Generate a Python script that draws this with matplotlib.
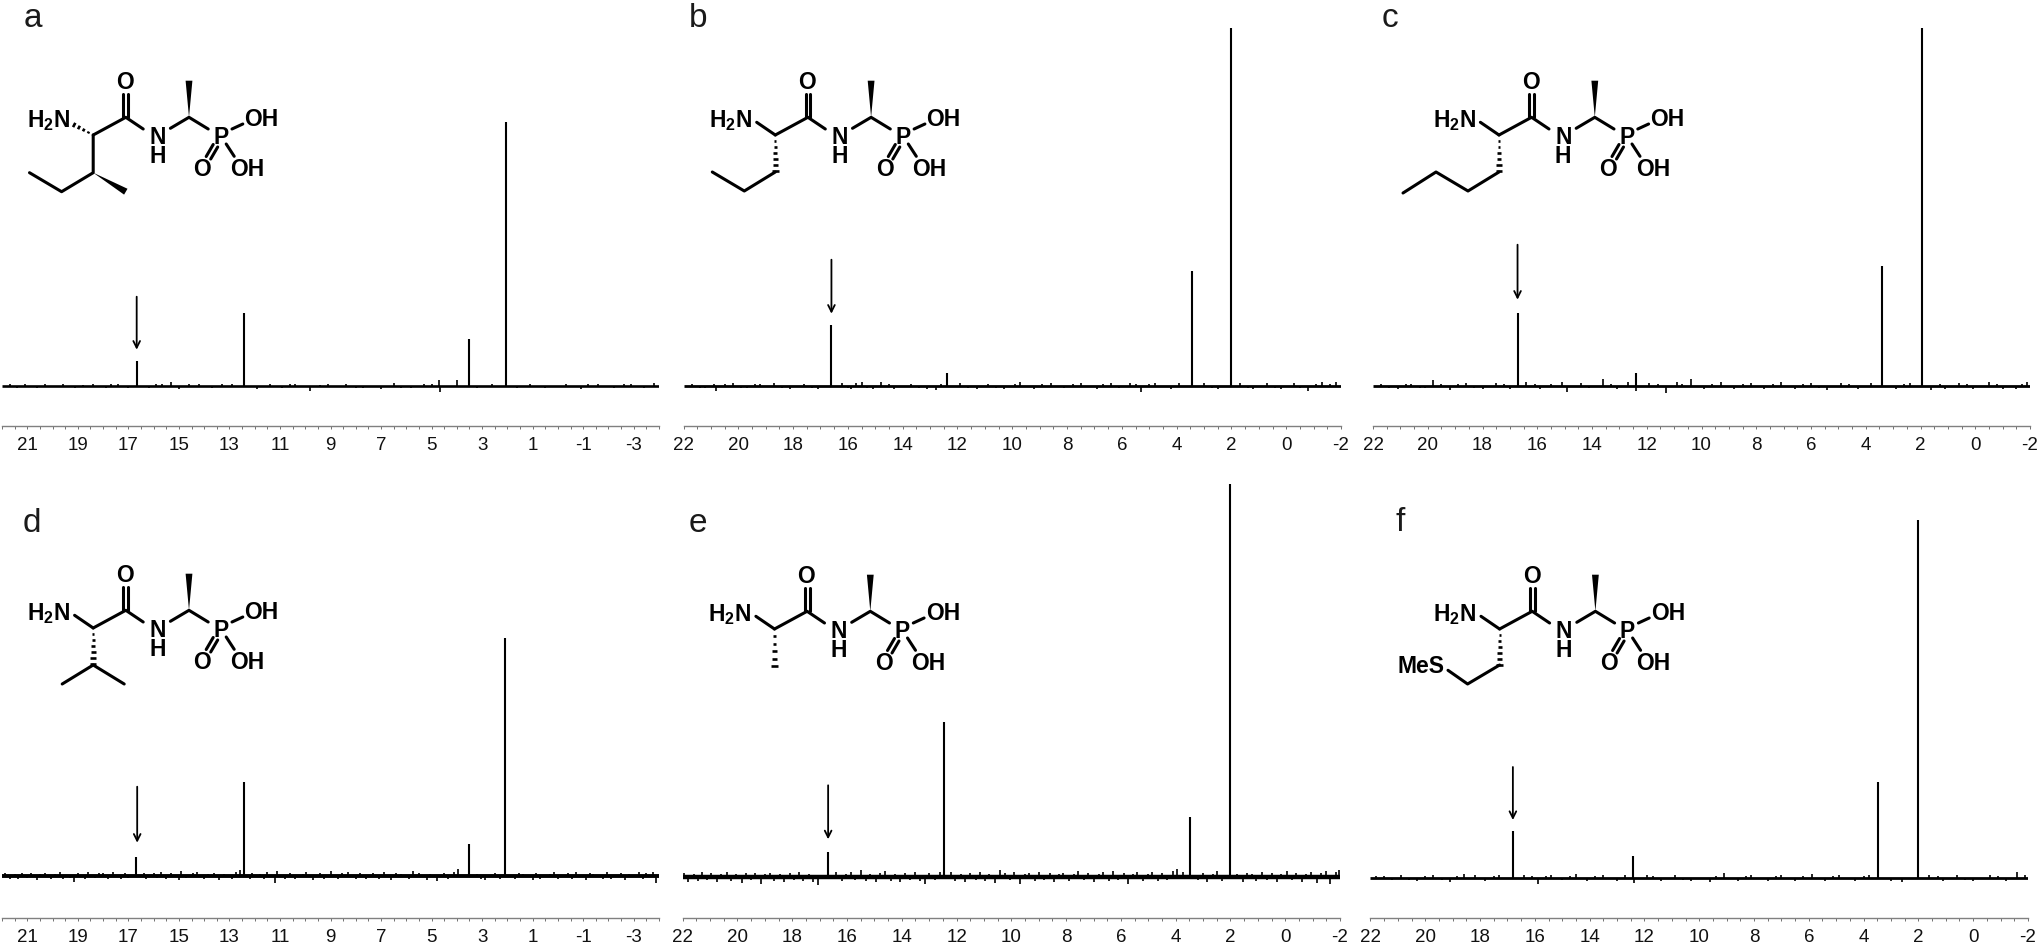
import matplotlib
matplotlib.use('Agg')
from matplotlib import pyplot as plt
from matplotlib.ticker import MultipleLocator

plt.rcParams['font.family'] = ['Liberation Sans', 'DejaVu Sans']
plt.rcParams['mathtext.fontset'] = 'custom'
plt.rcParams['mathtext.bf'] = 'Liberation Sans:bold'
plt.rcParams['mathtext.rm'] = 'Liberation Sans'
plt.rcParams['axes.unicode_minus'] = False

W, H = 2041, 945

# peaks: shift (ppm) and height above the baseline
peaks_a_ppm = [16.67, 12.42, 3.50, 2.07]
peaks_a_h = [25, 73, 47, 264]
peaks_b_ppm = [16.60, 12.40, 3.45, 2.02]
peaks_b_h = [61, 13, 115, 358]
peaks_c_ppm = [16.72, 12.40, 3.39, 1.93]
peaks_c_h = [73, 13, 120, 358]
peaks_d_ppm = [16.69, 12.44, 3.53, 2.10]
peaks_d_h = [19, 94, 32, 238]
peaks_e_ppm = [16.69, 12.45, 3.47, 2.03]
peaks_e_h = [25, 155, 60, 393]
peaks_f_ppm = [16.80, 12.42, 3.48, 2.03]
peaks_f_h = [47, 22, 96, 358]

# visible baseline spikes, read by eye
noise_a_ppm = [21.7, 21.4, 21.1, 20.6, 20.3, 19.9, 19.6, 19.1, 18.8, 18.4, 17.9, 17.7, 17.4, 17.0, 16.2, 15.9, 15.65, 15.3, 15.0, 14.6, 14.2, 13.7, 13.3, 12.9, 11.9, 11.4, 10.9, 10.6, 10.4, 9.8, 9.4, 9.1, 8.4, 8.0, 7.7, 7.0, 6.5, 6.2, 5.8, 5.3, 5.0, 4.72, 4.68, 4.0, 3.2, 2.6, 1.6, 1.1, 0.8, 0.5, -0.3, -0.9, -1.2, -1.6, -2.2, -2.6, -2.9, -3.4, -3.8]
noise_a_amp = [2, -2, 2, -2, 2, -1, 2, -2, 1, 2, -2, 2, 2, -2, -2, 2, 2, 4, -3, 2, 2, -2, 2, 2, -3, 2, -2, 2, 2, -5, 1, 2, 2, -2, -2, -3, 3, -2, -2, 2, 2, 6, -6, 6, -2, 2, -2, 2, -1, -2, 2, -3, 2, 2, -2, 2, 2, -2, 3]
noise_b_ppm = [21.7, 21.4, 21.2, 20.9, 20.8, 20.5, 20.2, 19.9, 19.7, 19.4, 19.2, 18.7, 18.4, 18.1, 17.6, 17.3, 17.1, 16.2, 16.0, 15.9, 15.7, 15.5, 15.3, 15.1, 14.8, 14.5, 14.3, 13.7, 13.4, 13.1, 12.8, 12.6, 11.9, 11.6, 11.3, 10.9, 10.6, 10.3, 9.9, 9.7, 9.2, 8.9, 8.6, 8.1, 7.8, 7.5, 6.9, 6.7, 6.4, 6.1, 5.7, 5.5, 5.3, 5.0, 4.8, 4.2, 3.9, 3.0, 2.7, 2.5, 1.7, 1.4, 1.2, 0.7, 0.4, 0.2, -0.3, -0.5, -0.8, -1.1, -1.3, -1.6, -1.8]
noise_b_amp = [2, -2, -2, 2, -5, 2, 3, -2, -2, 2, 2, 3, -2, -3, 2, -2, -3, 3, -2, -3, 3, 4, -2, -3, 4, 2, -3, 2, -2, -3, -4, 2, 3, -2, -3, 2, -2, -3, 2, 4, -3, 2, 3, -2, 2, 3, -3, 2, 3, -2, 3, 2, -6, 2, 3, -3, 3, 3, -2, -3, 3, -2, -3, 3, -2, -3, 3, -2, -5, 2, 4, 2, 4]
noise_c_ppm = [21.7, 21.4, 21.1, 20.8, 20.6, 20.3, 20.1, 19.8, 19.5, 19.2, 18.9, 18.6, 18.3, 18.0, 17.5, 17.2, 17.0, 16.4, 16.1, 15.9, 15.5, 15.1, 14.9, 14.4, 14.1, 13.6, 13.3, 13.1, 12.7, 12.41, 11.9, 11.6, 11.3, 10.9, 10.7, 10.4, 9.9, 9.6, 9.3, 8.8, 8.5, 8.2, 7.7, 7.4, 7.1, 6.6, 6.3, 6.0, 5.7, 5.4, 4.9, 4.6, 4.3, 3.8, 2.9, 2.6, 2.4, 1.6, 1.3, 1.1, 0.6, 0.3, 0.1, -0.5, -0.8, -1.0, -1.5, -1.7, -1.9]
noise_c_amp = [2, -2, -3, 2, 2, -2, -2, 6, 2, -4, 2, 3, -2, -3, 3, 2, -3, 4, 2, -3, 2, 4, -6, 3, -2, 7, 2, -3, 4, -5, 3, 2, -7, 4, 2, 7, -3, 2, 4, -3, 2, 3, -3, 2, 4, -3, 2, 3, -2, -4, 3, 2, -3, 3, -3, 2, 3, -4, 2, -3, 3, 2, -3, 4, 2, -3, -3, 2, 4]
noise_d_ppm = [21.9, 21.7, 21.5, 21.35, 21.2, 21.0, 20.85, 20.6, 20.5, 20.3, 20.05, 19.9, 19.7, 19.6, 19.3, 19.15, 19.0, 18.7, 18.6, 18.3, 18.15, 18.0, 17.8, 17.6, 17.3, 17.15, 17.0, 16.4, 16.3, 16.0, 15.85, 15.7, 15.5, 15.3, 15.0, 14.9, 14.7, 14.45, 14.3, 14.0, 13.85, 13.6, 13.4, 13.2, 12.9, 12.75, 12.6, 12.2, 12.1, 11.8, 11.65, 11.5, 11.2, 11.1, 10.8, 10.6, 10.4, 10.1, 9.95, 9.7, 9.4, 9.25, 9.0, 8.7, 8.55, 8.3, 8.0, 7.85, 7.6, 7.3, 7.1, 6.9, 6.6, 6.4, 6.2, 5.9, 5.75, 5.5, 5.2, 5.05, 4.8, 4.5, 4.35, 4.1, 3.96, 3.2, 3.05, 2.9, 2.5, 2.3, 1.7, 1.55, 1.4, 1.0, 0.85, 0.7, 0.3, 0.15, 0.0, -0.4, -0.55, -0.7, -1.1, -1.25, -1.4, -1.8, -1.95, -2.1, -2.5, -2.65, -2.8, -3.2, -3.35, -3.5, -3.75, -3.9]
noise_d_amp = [3, -3, 2, -3, 3, -2, 3, -4, 2, 3, -3, 2, 4, -3, -2, -6, 3, -3, 4, -2, 3, 3, -3, 4, -3, 3, -2, 3, -3, 3, -2, 4, -3, 3, -4, 5, -2, 3, 4, -3, 2, 3, -4, 2, -3, 4, 6, -3, 3, 2, -3, 4, -7, 5, -3, 3, -3, 2, 4, -4, 3, -3, 5, -3, 3, 4, -3, 3, -3, 3, -3, 4, -4, 3, 2, -3, 5, 3, -4, 2, -5, 3, -3, 4, 7, 2, -3, -4, 3, -3, -3, 3, 2, -4, 3, -3, 2, 4, -3, 3, -3, 4, -4, 3, 2, -3, 4, -3, 3, -4, 2, 4, -3, 3, 4, -7]
noise_e_ppm = [21.95, 21.8, 21.6, 21.45, 21.3, 21.1, 20.95, 20.75, 20.6, 20.4, 20.25, 20.05, 19.85, 19.7, 19.5, 19.35, 19.15, 19.0, 18.8, 18.65, 18.45, 18.3, 18.1, 17.95, 17.75, 17.6, 17.4, 17.25, 17.05, 16.4, 16.2, 16.05, 15.85, 15.7, 15.5, 15.3, 15.15, 14.95, 14.8, 14.6, 14.4, 14.25, 14.05, 13.9, 13.7, 13.5, 13.35, 13.15, 13.0, 12.8, 12.6, 12.2, 12.05, 11.85, 11.7, 11.5, 11.3, 11.15, 10.95, 10.8, 10.6, 10.4, 10.25, 10.05, 9.9, 9.7, 9.5, 9.35, 9.15, 9.0, 8.8, 8.6, 8.45, 8.25, 8.1, 7.9, 7.7, 7.55, 7.35, 7.2, 7.0, 6.8, 6.65, 6.45, 6.3, 6.1, 5.9, 5.75, 5.55, 5.4, 5.2, 5.0, 4.85, 4.65, 4.5, 4.3, 4.1, 3.95, 3.75, 3.2, 3.0, 2.85, 2.65, 2.5, 2.3, 1.75, 1.55, 1.4, 1.2, 1.05, 0.85, 0.65, 0.5, 0.3, 0.15, -0.05, -0.25, -0.4, -0.6, -0.75, -0.95, -1.15, -1.3, -1.5, -1.65, -1.85, -1.97]
noise_e_amp = [4, -5, 3, -4, 5, -3, 4, -5, 3, 5, -4, 3, -6, 4, -3, 4, -7, 3, 4, -4, 3, -5, 4, -3, 5, -4, 3, -5, -8, 5, -4, 3, 5, -3, 7, -4, 3, -5, 4, 6, -4, 3, -5, 4, -3, 5, -4, -7, 4, -3, 5, 5, -4, 3, -5, 4, -3, 5, -4, 3, -6, 7, 4, -3, 5, -7, 3, 4, -4, 5, -3, 4, -5, 3, 4, -4, 3, 6, -3, 4, -5, 3, 5, -4, 6, -3, 4, -7, 3, 5, -4, 3, 5, -4, 4, -3, 6, 8, 5, -3, 4, -5, 3, 6, -4, 3, -5, 4, 3, -4, 5, -3, 4, -5, 3, 6, -3, 4, -5, 3, 5, -6, 4, 6, -7, 5, 7]
noise_f_ppm = [21.8, 21.5, 21.2, 20.9, 20.6, 20.3, 20.0, 19.7, 19.4, 19.1, 18.85, 18.6, 18.2, 17.8, 17.5, 17.3, 16.4, 16.1, 15.9, 15.6, 15.4, 15.0, 14.7, 14.5, 14.1, 13.8, 13.5, 13.0, 12.7, 12.38, 11.9, 11.7, 11.4, 10.9, 10.6, 10.3, 9.6, 9.4, 9.1, 8.6, 8.3, 8.1, 7.5, 7.2, 7.0, 6.5, 6.2, 5.9, 5.4, 5.1, 4.9, 4.3, 4.0, 3.8, 3.0, 2.6, 1.6, 1.3, 1.1, 0.6, 0.3, 0.0, -0.6, -0.9, -1.2, -1.6, -1.9]
noise_f_amp = [2, 2, -2, 3, -2, -3, 2, 3, -2, -4, 2, 4, 3, -3, 2, 3, 3, 2, -6, 2, 3, -2, 2, 4, -3, 2, 3, -3, 3, -5, 3, 2, -3, 3, -2, -3, -4, 2, 5, -3, 2, 3, -3, 2, 3, -3, 2, 4, -3, 2, 3, -3, 2, 3, -3, -4, 3, 2, -3, 3, -2, -3, 3, 2, -3, 6, 3]

# arrows: ppm, top of shaft, tip (height above the baseline)
arrow_ppm = [16.67, 16.60, 16.72, 16.65, 16.69, 16.80]
arrow_top = [89, 126, 141, 89, 92, 111]
arrow_tip = [36, 72, 86, 33, 38, 58]

ticks_odd = [21, 19, 17, 15, 13, 11, 9, 7, 5, 3, 1, -1, -3]
ticks_even = [22, 20, 18, 16, 14, 12, 10, 8, 6, 4, 2, 0, -2]

panel_names = ['a', 'b', 'c', 'd', 'e', 'f']

fig = plt.figure(figsize=(W / 100, H / 100), dpi=100, facecolor='white')


def draw_panel(x0, x1, y_base, y_axis, y_top, xlim, ticks, pk_ppm, pk_h, nz_ppm, nz_amp, base_lw, i):
    ax = fig.add_axes([x0 / W, 1 - y_axis / H, (x1 - x0) / W, (y_axis - y_top) / H])
    ax.patch.set_alpha(0)
    ax.set_xlim(xlim)
    ax.set_ylim(y_base - y_axis, y_base - y_top)
    ax.plot(xlim, [0, 0], color='black', lw=base_lw, solid_capstyle='butt')
    ax.vlines(nz_ppm, 0, nz_amp, color='black', lw=1.2)
    ax.vlines(pk_ppm, 0, pk_h, color='black', lw=1.5)
    ax.annotate('', xy=(arrow_ppm[i], arrow_tip[i]), xytext=(arrow_ppm[i], arrow_top[i]),
                arrowprops=dict(arrowstyle='->', color='black', lw=1.3, mutation_scale=12,
                                shrinkA=0, shrinkB=0))
    for s in ['left', 'right', 'top']:
        ax.spines[s].set_visible(False)
    ax.spines['bottom'].set_color('#808080')
    ax.spines['bottom'].set_linewidth(1.0)
    ax.set_yticks([])
    ax.set_xticks(ticks)
    ax.xaxis.set_minor_locator(MultipleLocator(0.5))
    ax.tick_params(axis='x', which='both', direction='out', length=2.5, width=0.7, color='#707070')
    ax.tick_params(axis='x', which='major', labelsize=13.5, pad=5, labelcolor='#111111')
    return ax


draw_panel(2, 659, 386.7, 426.7, 0, (22, -4), ticks_odd, peaks_a_ppm, peaks_a_h, noise_a_ppm, noise_a_amp, 1.9, 0)
draw_panel(683.5, 1341, 386.7, 426.7, 0, (22, -2), ticks_even, peaks_b_ppm, peaks_b_h, noise_b_ppm, noise_b_amp, 2.0, 1)
draw_panel(1373, 2030, 386.7, 426.7, 0, (22, -2), ticks_even, peaks_c_ppm, peaks_c_h, noise_c_ppm, noise_c_amp, 2.0, 2)
draw_panel(2, 659, 876.7, 919, 465, (22, -4), ticks_odd, peaks_d_ppm, peaks_d_h, noise_d_ppm, noise_d_amp, 2.8, 3)
draw_panel(682.7, 1340, 878.3, 919, 465, (22, -2), ticks_even, peaks_e_ppm, peaks_e_h, noise_e_ppm, noise_e_amp, 3.2, 4)
draw_panel(1370.4, 2028, 879, 919, 465, (22, -2), ticks_even, peaks_f_ppm, peaks_f_h, noise_f_ppm, noise_f_amp, 2.0, 5)

# overlay in pixel coordinates for panel letters and the structures
ov = fig.add_axes([0, 0, 1, 1])
ov.set_xlim(0, W)
ov.set_ylim(H, 0)
ov.axis('off')
ov.patch.set_alpha(0)

label_x = [33, 698, 1390, 32, 698, 1400]
label_y = [27, 27, 27, 532, 532, 531]
for name, lx, ly in zip(panel_names, label_x, label_y):
    ov.text(lx, ly, name, fontsize=24, ha='center', va='baseline', color='#1a1a1a')

BOND = 2.2


def bond(cx, cy, pts):
    ov.plot([cx + p[0] for p in pts], [cy + p[1] for p in pts], color='black', lw=BOND,
            solid_capstyle='round', solid_joinstyle='round')


def wedge(cx, cy, a, b, w=3.4):
    dx, dy = b[0] - a[0], b[1] - a[1]
    ln = (dx * dx + dy * dy) ** 0.5
    nx, ny = -dy / ln * w, dx / ln * w
    ov.fill([cx + a[0], cx + b[0] + nx, cx + b[0] - nx], [cy + a[1], cy + b[1] + ny, cy + b[1] - ny],
            color='black', lw=0)


def hashed(cx, cy, a, b, n=6, w=2.6):
    dx, dy = b[0] - a[0], b[1] - a[1]
    ln = (dx * dx + dy * dy) ** 0.5
    nx, ny = -dy / ln, dx / ln
    for k in range(1, n + 1):
        t = k / n
        hw = 0.6 + w * t
        px, py = a[0] + dx * t, a[1] + dy * t
        ov.plot([cx + px - nx * hw, cx + px + nx * hw], [cy + py - ny * hw, cy + py + ny * hw],
                color='black', lw=1.9, solid_capstyle='butt')


def atom(cx, cy, x, y, s):
    ov.text(cx + x, cy + y, s, fontsize=16.5, fontweight='bold', ha='center', va='center', color='black')


def backbone(cx, cy, hash_nh2=False):
    bond(cx, cy, [(50, -6), (32.6, -17.7), (0, 0)])
    bond(cx, cy, [(30.2, -18), (30.2, -41)])
    bond(cx, cy, [(35, -18), (35, -41)])
    atom(cx, cy, 32, -53.7, 'O')
    atom(cx, cy, 64.2, 1.3, 'N')
    atom(cx, cy, 64.2, 20.7, 'H')
    bond(cx, cy, [(77.2, -6.7), (95.8, -17.7), (115, -6)])
    wedge(cx, cy, (95.8, -17.7), (95.8, -54.3))
    atom(cx, cy, 127.8, 1.3, 'P')
    bond(cx, cy, [(138.8, -6), (149.6, -11)])
    atom(cx, cy, 168.3, -16.7, 'OH')
    bond(cx, cy, [(133, 9), (141, 21.3)])
    atom(cx, cy, 153.9, 33.3, 'OH')
    bond(cx, cy, [(124.5, 12), (117.5, 24)])
    bond(cx, cy, [(120, 9.5), (113, 21.5)])
    atom(cx, cy, 109.3, 33.3, 'O')
    ov.text(cx - 44.6, cy - 15.5, r'$\mathbf{H_2N}$', fontsize=16.5, ha='center', va='center', color='black')
    if hash_nh2:
        hashed(cx, cy, (0, 0), (-19, -10), n=4, w=1.8)
    else:
        bond(cx, cy, [(-18.6, -12.7), (0, 0)])


# a
backbone(93.2, 136, hash_nh2=True)
bond(93.2, 136, [(0, 0), (0, 37.7), (-31.6, 56.7), (-63.7, 37.7)])
wedge(93.2, 136, (0, 37.7), (32.6, 56.7))
# b
backbone(775.3, 136)
hashed(775.3, 136, (0, 0), (0, 36))
bond(775.3, 136, [(0, 37), (-31, 56), (-63, 37)])
# c
backbone(1499, 136)
hashed(1499, 136, (0, 0), (0, 36))
bond(1499, 136, [(0, 37), (-31, 56), (-63, 37), (-96, 58)])
# d
backbone(93.2, 629)
hashed(93.2, 629, (0, 0), (0, 36))
bond(93.2, 629, [(-31, 56), (0, 37), (31, 56)])
# e
backbone(774.5, 630)
hashed(774.5, 630, (0, 0), (0, 37), n=5)
# f
backbone(1499.6, 630)
hashed(1499.6, 630, (0, 0), (0, 36))
bond(1499.6, 630, [(0, 36), (-32, 55), (-51.6, 41.3)])
atom(1499.6, 630, -79, 36.3, 'MeS')

fig.savefig('out.png', dpi=100, facecolor='white')
